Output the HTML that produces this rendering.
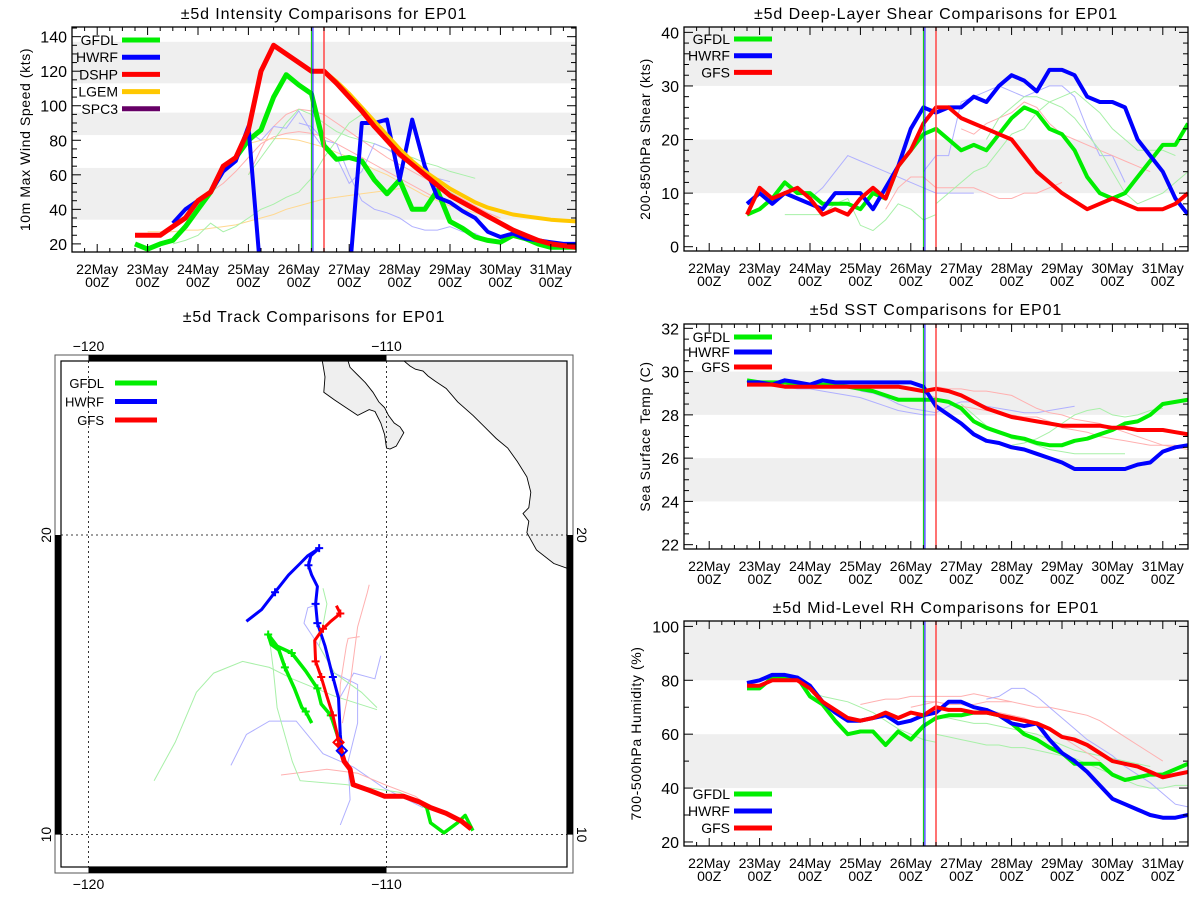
<!DOCTYPE html>
<html><head><meta charset="utf-8"><style>
html,body{margin:0;padding:0;background:#fff;}
svg{display:block;font-family:"Liberation Sans",sans-serif;}
</style></head><body>
<svg id="fig" width="1200" height="900" viewBox="0 0 1200 900" xmlns="http://www.w3.org/2000/svg"></svg>
<script>
// ===== shared time axis (days since 22May 00Z) =====
const days = [0.75,1,1.25,1.5,1.75,2,2.25,2.5,2.75,3,3.25,3.5,3.75,4,4.25,4.5,4.75,5,5.25,5.5,5.75,6,6.25,6.5,6.75,7,7.25,7.5,7.75,8,8.25,8.5,8.75,9,9.25,9.5];
const dayLabels = ["22May","23May","24May","25May","26May","27May","28May","29May","30May","31May"];
const initGreenDay = 4.25, initBlueDay = 4.28, initRedDay = 4.5;

// ===== intensity =====
const intTicks = [20,40,60,80,100,120,140];
const intBands = [[34,64],[83,96],[113,137]];
const intGFDL = [20,17,20,22,30,40,50,63,70,80,86,105,118,112,107,77,69,70,68,57,49,57,40,40,51,33,29,24,22,21,25,23,20,18,18,18];
const intHWRF = [null,null,null,32,40,45,50,62,68,88,0,0,0,0,0,0,0,0,90,90,92,57,92,65,47,44,39,35,27,24,26,23,22,21,20,20];
const intDSHP = [25,25,25,30,35,45,50,65,70,86,120,135,130,125,120,120,113,105,97,88,80,72,66,60,54,48,44,40,36,32,28,25,22,20,19,18];
const intLGEM = [null,null,null,null,null,null,null,null,null,null,null,null,null,null,null,120,114,107,99,91,83,75,68,62,57,52,48,44,41,39,37,36,35,34,33.5,33];
const intThinStart = [2.0,3.0,3.0,1.0,3.0,3.0,4.0,1.5];
const intThinColor = ["red","red","yellow","yellow","green","blue","blue","green"];
const intThin0 = [45,50,55,62,70,78,82,84,85,84,82,78,74,70,66,62,58,54,50,46];
const intThin1 = [60,75,88,95,98,97,95,90,85,80,75,70,66,62,58,54,50,46,42,38,35];
const intThin2 = [78,80,81,81,80,78,76,73,70,67,63,60,56,52,48,45,42,40,38,36,35];
const intThin3 = [27,27,27,28,28,29,30,31,33,35,37,40,42,44,46,47,48,49,50,51,52];
const intThin4 = [60,70,80,90,98,95,90,85,82,80,78,75,72,70,67,65,62,60,58];
const intThin5 = [85,80,88,87,97,85,75,70,55,62,78,75,70,65,62,58,56];
const intThin6 = [90,88,80,78,60,45,40,38,35,30,28,28,30,27,26,22,22];
const intThin7 = [20,22,25,32,27,30,35,40,43,47,50,58,70,80,90,95,90,80,72,66,60,55,50,45];

// ===== shear =====
const shrTicks = [0,10,20,30,40];
const shrBands = [[10,20],[30,41]];
const shrGFDL = [6,7,9,12,10,10,8,8,8,7,10,9,15,18,21,22,20,18,19,18,21,24,26,25,22,21,18,13,10,9,10,13,16,19,19,23];
const shrHWRF = [8,10,8,10,9,8,7,10,10,10,7,11,15,22,26,25,26,26,28,27,30,32,31,29,33,33,32,28,27,27,26,20,17,14,9,6];
const shrGFS  = [6,11,9,10,11,9,6,7,6,9,11,9,15,18,23,26,26,24,23,22,21,20,17,14,12,10,8.5,7,8,9,8,7,7,7,8,10];
const shrThinStart = [1.5,2.0,3.5,4.25,4.5,5.0,5.5];
const shrThinColor = ["green","blue","red","blue","green","red","green"];
const shrThin0 = [6,6,6,6,8,9,4,3,5,8,7,5,6];
const shrThin1 = [9,11,14,17,16,15,14,13,12,11,10,10,10,10];
const shrThin2 = [7,11,13,13,11,11,11,11,10,9,9,10,10,11,12];
const shrThin3 = [14,17,17,27,28,29,30,29,28,29,30,30,28,22,17,17,12];
const shrThin4 = [8,10,12,14,15,18,21,22,25,27,28,29,27,25,22,20,18,18,18,17];
const shrThin5 = [22,21,23,24,25,27,26,23,21,20,19,18,17,16,15,14];
const shrThin6 = [20,24,26,28,28,27,26,24,21,18,14,10,8,9,10,12,14,14];

// ===== SST =====
const sstTicks = [22,24,26,28,30,32];
const sstBands = [[24,26],[28,30]];
const sstGFDL = [29.6,29.5,29.5,29.5,29.4,29.4,29.4,29.4,29.3,29.2,29.1,28.9,28.7,28.7,28.7,28.7,28.6,28.3,27.7,27.4,27.2,27.0,26.9,26.7,26.6,26.6,26.8,26.9,27.1,27.3,27.6,27.7,28.0,28.5,28.6,28.7];
const sstHWRF = [29.5,29.5,29.4,29.6,29.5,29.4,29.6,29.5,29.5,29.5,29.5,29.5,29.5,29.5,29.3,28.4,28.0,27.6,27.1,26.8,26.7,26.5,26.4,26.2,26.0,25.8,25.5,25.5,25.5,25.5,25.5,25.7,25.8,26.3,26.5,26.6];
const sstGFS  = [29.4,29.4,29.4,29.3,29.3,29.3,29.3,29.3,29.3,29.3,29.3,29.3,29.3,29.2,29.1,29.2,29.1,28.9,28.6,28.3,28.1,27.9,27.8,27.7,27.6,27.5,27.5,27.5,27.5,27.4,27.4,27.3,27.3,27.3,27.2,27.1];
const sstThinStart = [1.5,3.0,4.5,5.0,4.25,6.0];
const sstThinColor = ["blue","blue","red","green","red","green"];
const sstThin0 = [29.3,29.2,29.2,29.1,29.0,28.9,28.8,28.6,28.4,28.2,28.1,28.0,28.0];
const sstThin1 = [29.1,29.0,28.8,28.5,28.3,28.2,28.1,28.4,28.6,28.6,28.4,28.3,28.2,28.1,28.1,28.2,28.3,28.4];
const sstThin2 = [29.3,29.2,29.2,29.1,29.1,29.0,28.9,28.6,28.3,28.1,28.0,27.8,27.7,27.6,27.4,27.2,27.0,26.8,26.6,26.5,26.4];
const sstThin3 = [28.5,28.0,27.5,27.2,26.9,26.8,26.6,26.4,26.3,26.2,26.2,26.2,26.2,26.2];
const sstThin4 = [29.0,28.8,28.6,28.4,28.3,28.2,28.1,28.0,27.9,27.9,27.7,27.4,27.3,27.2,27.0,26.9,26.8,26.7,26.6,26.6,26.6,26.5];
const sstThin5 = [26.6,26.7,26.9,27.2,27.6,28.0,28.2,28.3,28.0,27.9,28.0,28.2,28.3];

// ===== RH =====
const rhTicks = [20,40,60,80,100];
const rhBands = [[40,60],[80,102]];
const rhGFDL = [77,77,81,81,81,74,71,65,60,61,61,56,61,58,63,66,67,67,68,68,67,64,60,58,55,53,49,49,49,45,43,44,45,45,47,49];
const rhHWRF = [79,80,82,82,81,78,72,68,65,65,66,67,64,65,67,68,72,72,70,69,67,64,63,64,58,53,50,46,41,36,34,32,30,29,29,30];
const rhGFS  = [78,78,80,80,80,77,72,69,66,65,66,68,66,68,67,70,69,69,68,68,67,66,65,64,62,59,58,56,53,50,49,48,46,44,45,46];
const rhThinStart = [2.0,3.0,4.0,4.5,4.5,5.5,4.25];
const rhThinColor = ["green","red","red","green","green","blue","red"];
const rhThin0 = [76,74,73,72,70,68,65,62,60,58,57];
const rhThin1 = [71,72,73,73,74,74,74,74,74,75,74,73,72];
const rhThin2 = [70,71,72,71,71,71,72,72,72,71,70,70,69,68,67,65,62,59,56,53,50];
const rhThin3 = [60,59,58,57,56,56,55,55,54,53,52,51,49,47,45,43,41,40,40,41,41,42,43];
const rhThin4 = [66,66,65,64,64,63,62,61,60,58,56,54,53,52,51,50,49,48];
const rhThin5 = [73,74,77,77,74,70,66,62,58,55,52,48,45,42,38,34,33,35,36];
const rhThin6 = [72,72,71,71,70,69,68,67,66,64,62,59,56,53,50];

// ===== track map (lon, lat) =====
const trkGFDLLon = [-107.1,-107.36,-107.62,-108.07,-108.52,-108.65,-108.9,-109.42,-110.06,-110.58,-111.12,-111.22,-111.42,-111.5,-111.61,-111.87,-112.19,-112.32,-112.71,-113.18,-113.67,-113.97,-113.87,-113.61,-113.41,-113.09,-112.84,-112.71,-112.51];
const trkGFDLLat = [10.13,10.64,10.39,10.06,10.39,10.9,11.09,11.28,11.28,11.48,11.67,12.18,12.44,12.8,13.21,13.98,14.36,14.88,15.46,16.06,16.29,16.68,16.35,16.16,15.58,14.88,14.24,14.11,13.72];
const trkHWRFLon = [-107.16,-107.49,-108.0,-108.52,-108.9,-109.42,-110.06,-110.58,-111.12,-111.22,-111.42,-111.5,-111.55,-111.61,-111.8,-112.06,-112.32,-112.38,-112.32,-112.51,-112.62,-112.54,-112.26,-112.64,-112.9,-113.29,-113.74,-114.19,-114.7];
const trkHWRFLat = [10.19,10.45,10.71,10.9,11.09,11.28,11.28,11.48,11.67,12.18,12.44,12.8,13.34,14.56,15.26,16.29,17.06,17.7,18.28,18.66,18.99,19.31,19.56,19.31,19.05,18.66,18.09,17.51,17.12];
const trkGFSLon = [-107.16,-107.49,-108.0,-108.52,-108.9,-109.42,-110.06,-110.58,-111.12,-111.22,-111.42,-111.61,-111.68,-111.8,-112.0,-112.19,-112.38,-112.41,-112.13,-111.87,-111.55,-111.68];
const trkGFSLat = [10.19,10.45,10.71,10.9,11.09,11.28,11.28,11.48,11.67,12.18,12.44,13.08,13.46,13.98,14.62,15.26,15.78,16.48,16.87,17.12,17.38,17.64];
const trkMarksGFDL = [15,17,19,21,24,27];
const trkMarksHWRF = [14,16,17,20,22,26];
const trkMarksGFS = [13,15,16,18,20];
const trkThinColor = ["green","blue","blue","blue","red","red","red","green","green"];
const trkThinLon = [
 [-117.8,-117.09,-116.38,-115.8,-114.83,-113.93,-113.16,-111.74,-110.32],
 [-115.22,-114.7,-113.93,-113.03,-112.13,-111.1,-110.06,-108.78],
 [-111.55,-111.22,-111.29,-110.97,-110.97,-111.74,-112.26,-112.77,-112.64,-112.26],
 [-111.61,-111.1,-110.39,-110.19],
 [-113.54,-112.0,-110.97,-110.06,-109.03,-108.52],
 [-111.61,-111.55,-111.35,-111.29,-110.9],
 [-111.48,-111.22,-110.97,-110.64,-110.58],
 [-113.93,-113.8,-113.67,-113.16,-112.9,-111.35,-109.55,-108.65],
 [-112.13,-112.0,-112.26,-111.74,-110.84,-110.32]];
const trkThinLat = [
 [11.8,13.08,14.75,15.39,15.78,15.58,15.2,14.62,14.17],
 [12.31,13.34,13.79,13.79,12.7,12.25,11.54,10.9],
 [10.32,11.16,12.44,13.72,15.01,15.39,16.29,17.06,17.57,17.7],
 [14.49,15.39,15.2,15.97],
 [11.99,12.18,12.05,11.67,11.28,10.9],
 [13.21,15.01,16.29,16.55,16.61],
 [13.72,15.01,16.93,18.09,18.34],
 [16.55,15.52,14.24,12.44,11.8,11.67,11.41,10.9],
 [18.22,17.7,16.29,15.39,14.75,14.24]];

// ================= drawing =================
const NS = "http://www.w3.org/2000/svg";
const svg = document.getElementById("fig");
const COL = {green:"#00ee00", blue:"#0000ff", red:"#ff0000", yellow:"#ffc800", purple:"#660066"};
const THIN = {green:"#a8f0a8", blue:"#b0b0ff", red:"#ffb0b0", yellow:"#ffd890"};
function mk(tag, attrs, parent){
  const e = document.createElementNS(NS, tag);
  for (const k in attrs) e.setAttribute(k, attrs[k]);
  (parent||svg).appendChild(e);
  return e;
}
function txt(s, x, y, size, parent, anchor, extra){
  const t = mk("text", {x:x, y:y, "font-size":size, "text-anchor":anchor||"middle", fill:"#000"}, parent);
  if (extra) for (const k in extra) t.setAttribute(k, extra[k]);
  t.textContent = s;
  return t;
}

function panel(cfg){
  const g = mk("g", {});
  
  
  const X = d => cfg.x0 + (d + 0.5) * (cfg.x1 - cfg.x0) / 10;
  const Y = v => cfg.y1 - (v - cfg.ymin) * (cfg.y1 - cfg.y0) / (cfg.ymax - cfg.ymin);
  const cid = "clip-" + cfg.name;
  const cp = mk("clipPath", {id: cid}, g);
  mk("rect", {x:cfg.x0, y:cfg.y0, width:cfg.x1-cfg.x0, height:cfg.y1-cfg.y0}, cp);
  // bands
  cfg.bands.forEach(b => {
    const top = Math.max(Y(b[1]), cfg.y0), bot = Math.min(Y(b[0]), cfg.y1);
    const r = mk("rect", {x:cfg.x0, y:top, width:cfg.x1-cfg.x0, height:bot-top, fill:"#efefef"}, g);
    
    
  });
  const pg = mk("g", {"clip-path":"url(#"+cid+")"}, g);
  // thin lines
  cfg.thin.forEach((s, k) => {
    const pts = s.vals.map((v,i) => X(s.start + i*0.25).toFixed(1)+","+Y(v).toFixed(1)).join(" ");
    const pl = mk("polyline", {points:pts, fill:"none", stroke:THIN[s.color], "stroke-width":1}, pg);
    
    
  });
  // thick series
  cfg.series.forEach(s => {
    let segs = [], cur = [];
    s.vals.forEach((v,i) => {
      if (v === null) { if (cur.length) segs.push(cur); cur = []; }
      else cur.push(X(days[i]).toFixed(1)+","+Y(v).toFixed(1));
    });
    if (cur.length) segs.push(cur);
    segs.forEach(sg => {
      const pl = mk("polyline", {points:sg.join(" "), fill:"none", stroke:COL[s.color], "stroke-width":s.w||4, "stroke-linejoin":"round"}, pg);
      
      
    });
  });
  // init vertical lines
  const vl1 = mk("line", {x1:X(initGreenDay), x2:X(initGreenDay), y1:cfg.y0, y2:cfg.y1, stroke:"#00cc00", "stroke-width":1}, g);
  
  
  const vl2 = mk("line", {x1:X(initBlueDay), x2:X(initBlueDay), y1:cfg.y0, y2:cfg.y1, stroke:"#0000ff", "stroke-width":1}, g);
  
  
  const vl3 = mk("line", {x1:X(initRedDay), x2:X(initRedDay), y1:cfg.y0, y2:cfg.y1, stroke:"#ff5050", "stroke-width":1.6}, g);
  
  
  // frame
  const fr = mk("rect", {x:cfg.x0, y:cfg.y0, width:cfg.x1-cfg.x0, height:cfg.y1-cfg.y0, fill:"none", stroke:"#000", "stroke-width":1.3}, g);
  
  
  // x ticks
  const tk = mk("g", {stroke:"#000", "stroke-width":1}, g);
  for (let q = -2; q <= 38; q++) {
    const d = q * 0.25, x = X(d), L = (q % 4 === 0) ? 8 : 4;
    mk("line", {x1:x, x2:x, y1:cfg.y1, y2:cfg.y1-L}, tk);
    mk("line", {x1:x, x2:x, y1:cfg.y0, y2:cfg.y0+L}, tk);
  }
  for (let v = Math.ceil(cfg.ymin / cfg.minor) * cfg.minor; v <= cfg.ymax; v += cfg.minor) {
    const y = Y(v), major = cfg.ticks.some(t => Math.abs(t - v) < 1e-6), L = major ? 9 : 5;
    mk("line", {x1:cfg.x0, x2:cfg.x0+L, y1:y, y2:y}, tk);
    mk("line", {x1:cfg.x1, x2:cfg.x1-L, y1:y, y2:y}, tk);
  }
  // labels
  dayLabels.forEach((lab, i) => {
    const t1 = txt(lab, X(i), cfg.y1 + 22, 14, g);
    
    
    const t2 = txt("00Z", X(i), cfg.y1 + 35, 14, g);
    
    
  });
  cfg.ticks.forEach(v => {
    const t = txt(String(v), cfg.x0 - 5, Y(v) + 6, 16, g, "end");
    
    
  });
  const ttl = txt(cfg.title, (cfg.x0 + cfg.x1) / 2, cfg.titleY, 16, g, "middle", {"letter-spacing":"0.9"});
  
  
  const yt = txt(cfg.ytitle, 0, 0, 14, g, "middle", {"letter-spacing":"0.6", transform:"translate("+cfg.ytX+","+((cfg.y0+cfg.y1)/2)+") rotate(-90)"});
  
  
  // legend
  cfg.legend.forEach((e, i) => {
    const y = cfg.legY + i * cfg.legDy;
    const lg = mk("g", {}, g);
    
    
    mk("line", {x1:cfg.legLx, x2:cfg.legLx+38, y1:y, y2:y, stroke:COL[e[1]], "stroke-width":5}, lg);
    txt(e[0], cfg.legLx - 4, y + 5, 14, lg, "end");
  });
}

const intThin = [intThin0,intThin1,intThin2,intThin3,intThin4,intThin5,intThin6,intThin7].map((v,i)=>({start:intThinStart[i], color:intThinColor[i], vals:v}));
panel({name:"intensity-chart", x0:72, x1:576, y0:27, y1:252, ymin:15.3, ymax:145.6, minor:5, ticks:intTicks, bands:intBands,
  thin:intThin,
  series:[{label:"GFDL",color:"green",vals:intGFDL,w:5},{label:"HWRF",color:"blue",vals:intHWRF,w:4},{label:"LGEM",color:"yellow",vals:intLGEM,w:4},{label:"DSHP",color:"red",vals:intDSHP,w:5}],
  title:"±5d Intensity Comparisons for EP01", titleY:19, ytitle:"10m Max Wind Speed (kts)", ytX:30,
  legend:[["GFDL","green"],["HWRF","blue"],["DSHP","red"],["LGEM","yellow"],["SPC3","purple"]], legY:40, legDy:17.2, legLx:122});

const shrThin = [shrThin0,shrThin1,shrThin2,shrThin3,shrThin4,shrThin5,shrThin6].map((v,i)=>({start:shrThinStart[i], color:shrThinColor[i], vals:v}));
panel({name:"shear-chart", x0:684, x1:1188, y0:27, y1:251, ymin:-0.8, ymax:41, minor:2, ticks:shrTicks, bands:shrBands,
  thin:shrThin,
  series:[{label:"GFDL",color:"green",vals:shrGFDL},{label:"HWRF",color:"blue",vals:shrHWRF},{label:"GFS",color:"red",vals:shrGFS}],
  title:"±5d Deep-Layer Shear Comparisons for EP01", titleY:19, ytitle:"200-850hPa Shear (kts)", ytX:650,
  legend:[["GFDL","green"],["HWRF","blue"],["GFS","red"]], legY:39, legDy:16.7, legLx:734});

const sstThin = [sstThin0,sstThin1,sstThin2,sstThin3,sstThin4,sstThin5].map((v,i)=>({start:sstThinStart[i], color:sstThinColor[i], vals:v}));
panel({name:"sst-chart", x0:684, x1:1188, y0:324, y1:549, ymin:21.8, ymax:32.2, minor:0.5, ticks:sstTicks, bands:sstBands,
  thin:sstThin,
  series:[{label:"GFDL",color:"green",vals:sstGFDL},{label:"HWRF",color:"blue",vals:sstHWRF},{label:"GFS",color:"red",vals:sstGFS}],
  title:"±5d SST Comparisons for EP01", titleY:315, ytitle:"Sea Surface Temp (C)", ytX:650,
  legend:[["GFDL","green"],["HWRF","blue"],["GFS","red"]], legY:337, legDy:15, legLx:734});

const rhThin = [rhThin0,rhThin1,rhThin2,rhThin3,rhThin4,rhThin5,rhThin6].map((v,i)=>({start:rhThinStart[i], color:rhThinColor[i], vals:v}));
panel({name:"rh-chart", x0:684, x1:1188, y0:621, y1:846, ymin:18.5, ymax:102, minor:10, ticks:rhTicks, bands:rhBands,
  thin:rhThin,
  series:[{label:"GFDL",color:"green",vals:rhGFDL},{label:"HWRF",color:"blue",vals:rhHWRF},{label:"GFS",color:"red",vals:rhGFS}],
  title:"±5d Mid-Level RH Comparisons for EP01", titleY:613, ytitle:"700-500hPa Humidity (%)", ytX:641,
  legend:[["GFDL","green"],["HWRF","blue"],["GFS","red"]], legY:794, legDy:17, legLx:734});

// ===== map =====
(function(){
  const g = mk("g", {});
  
  
  const LX = lon => 88.5 + (lon + 120) * 29.8;
  const LY = lat => 834.6 - (lat - 10) * 29.96;
  const ox0=55, oy0=355, ox1=573, oy1=873, ix0=61, iy0=361, ix1=567, iy1=867;
  const cp = mk("clipPath", {id:"clip-map"}, g);
  mk("rect", {x:ix0, y:iy0, width:ix1-ix0, height:iy1-iy0}, cp);
  const ttl = txt("±5d Track Comparisons for EP01", 314, 322, 16, g, "middle", {"letter-spacing":"0.9"});
  
  
  const mg = mk("g", {"clip-path":"url(#clip-map)"}, g);
  // land
  const baja = mk("path", {d:"M322.3,360.8 L325,376.9 L323.8,392.3 L334.6,400 L346.2,407.7 L357.7,415.4 L369.2,409.6 L375,411.5 L380.8,423 L384.6,434.6 L386.5,448 L390,449 L396.2,446.2 L403.8,432.7 L400,426.9 L394.2,423 L388.5,415.4 L384.6,407.7 L378.8,401.9 L373,392.3 L365.4,382.7 L357.7,375 L350,367.3 L348,360.8 Z", fill:"#efefef", stroke:"#000", "stroke-width":0.9}, mg);
  
  
  const main = mk("path", {d:"M403.8,360.8 L410,366 L415.4,369.2 L423,371 L428,376 L434.6,380.8 L446.2,388.5 L457.7,401.9 L473,415.4 L484.6,426.9 L496.2,438.5 L507.7,448 L517.3,461.5 L526.9,476.9 L530.8,492.3 L528.8,507.7 L523,513.5 L528.8,521.2 L526.9,532.7 L536.5,550 L553.8,563.5 L566.5,568 L570,568 L570,358 L403.8,358 Z", fill:"#efefef", stroke:"#000", "stroke-width":0.9}, mg);
  
  
  // grid
  [-120,-110].forEach(lon => mk("line", {x1:LX(lon), x2:LX(lon), y1:iy0, y2:iy1, stroke:"#000", "stroke-width":0.8, "stroke-dasharray":"2,3"}, mg));
  [10,20].forEach(lat => mk("line", {x1:ix0, x2:ix1, y1:LY(lat), y2:LY(lat), stroke:"#000", "stroke-width":0.8, "stroke-dasharray":"2,3"}, mg));
  // thin tracks
  trkThinLon.forEach((lons, k) => {
    const pts = lons.map((lo,i) => LX(lo).toFixed(1)+","+LY(trkThinLat[k][i]).toFixed(1)).join(" ");
    const pl = mk("polyline", {points:pts, fill:"none", stroke:THIN[trkThinColor[k]], "stroke-width":1}, mg);
    
    
  });
  function track(lons, lats, color, marks, name, w){
    const pts = lons.map((lo,i) => LX(lo).toFixed(1)+","+LY(lats[i]).toFixed(1)).join(" ");
    const pl = mk("polyline", {points:pts, fill:"none", stroke:COL[color], "stroke-width":w, "stroke-linejoin":"round"}, mg);
    
    
    marks.forEach(i => {
      const x = LX(lons[i]), y = LY(lats[i]);
      mk("path", {d:"M"+(x-4)+","+y+" H"+(x+4)+" M"+x+","+(y-4)+" V"+(y+4), stroke:COL[color], "stroke-width":2}, mg);
    });
  }
  track(trkGFDLLon, trkGFDLLat, "green", trkMarksGFDL, "gfdl-track", 3.5);
  track(trkHWRFLon, trkHWRFLat, "blue", trkMarksHWRF, "hwrf-track", 3);
  track(trkGFSLon.slice(0,12), trkGFSLat.slice(0,12), "red", [], "gfs-past-track", 5);
  track(trkGFSLon.slice(11), trkGFSLat.slice(11), "red", trkMarksGFS.map(i=>i-11), "gfs-track", 3);
  // diamonds
  [[trkGFSLon[11],trkGFSLat[11],"red"],[trkHWRFLon[11],trkHWRFLat[11],"blue"]].forEach(p => {
    const x = LX(p[0]), y = LY(p[1]);
    const dm = mk("path", {d:"M"+x+","+(y-5)+" L"+(x+5)+","+y+" L"+x+","+(y+5)+" L"+(x-5)+","+y+" Z", fill:"none", stroke:COL[p[2]], "stroke-width":2}, mg);
    
    
  });
  // frame & border
  mk("rect", {x:ox0, y:oy0, width:ox1-ox0, height:oy1-oy0, fill:"none", stroke:"#555", "stroke-width":1}, g);
  mk("rect", {x:ix0, y:iy0, width:ix1-ix0, height:iy1-iy0, fill:"none", stroke:"#000", "stroke-width":1.2}, g);
  mk("rect", {x:LX(-120), y:oy0, width:LX(-110)-LX(-120), height:iy0-oy0, fill:"#000"}, g);
  mk("rect", {x:LX(-120), y:iy1, width:LX(-110)-LX(-120), height:oy1-iy1, fill:"#000"}, g);
  mk("rect", {x:ox0, y:LY(20), width:ix0-ox0, height:LY(10)-LY(20), fill:"#000"}, g);
  mk("rect", {x:ix1, y:LY(20), width:ox1-ix1, height:LY(10)-LY(20), fill:"#000"}, g);
  // labels
  [-120,-110].forEach(lon => {
    const a = txt("\u2212"+Math.abs(lon), LX(lon), 351, 14, g);  
    const b = txt("\u2212"+Math.abs(lon), LX(lon), 889, 14, g);  
  });
  [10,20].forEach(lat => {
    const a = txt(String(lat), 0, 0, 14, g, "middle", {transform:"translate(51,"+LY(lat)+") rotate(-90)"});  
    const b = txt(String(lat), 0, 0, 14, g, "middle", {transform:"translate(577,"+LY(lat)+") rotate(90)"});  
  });
  // legend
  [["GFDL","green"],["HWRF","blue"],["GFS","red"]].forEach((e,i) => {
    const y = 383 + i*18.5;
    const lg = mk("g", {}, g);
    
    
    mk("line", {x1:115, x2:157, y1:y, y2:y, stroke:COL[e[1]], "stroke-width":5}, lg);
    txt(e[0], 104, y+5, 13, lg, "end");
  });
})();
</script>
</body></html>
